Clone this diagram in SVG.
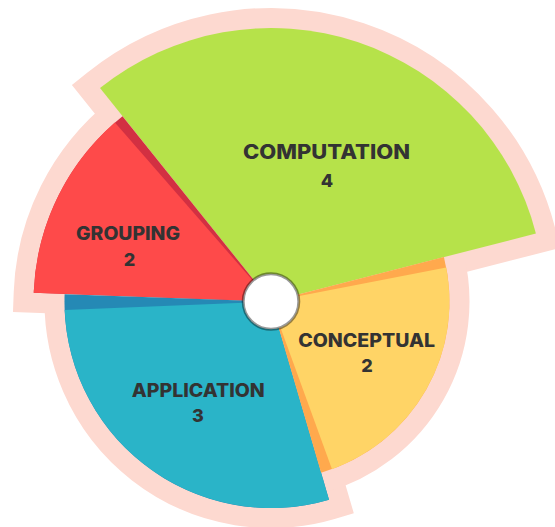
<svg xmlns="http://www.w3.org/2000/svg" width="555" height="527" viewBox="0 0 555 527">
<style>
.halo{fill:#FDD9D0;stroke:#FDD9D0;stroke-width:40;stroke-linejoin:miter;stroke-miterlimit:10}
.lbl{font-family:Inter,"Open Sans","Liberation Sans",sans-serif;font-weight:800;fill:#333333;text-anchor:middle}
.t{font-size:18.5px}
.n{font-size:18px}
</style>
<rect width="555" height="527" fill="#FFFFFF"/>
<g id="halo">
<path class="halo" d="M271,301.5 L100,88.1 A273.5,273.5 0 0 1 535.9,233.5 Z"/>
<path class="halo" d="M271,301.5 L33.7,292.8 A237.5,237.5 0 0 1 122.5,116.2 Z"/>
<path class="halo" d="M271,301.5 L329,499.7 A206.5,206.5 0 0 1 64.6,294.3 Z"/>
<path class="halo" d="M271,301.5 L443.9,257.1 A178.5,178.5 0 0 1 321.1,472.8 Z"/>
</g>
<g id="computation">
<path fill="#B6E24A" d="M271,301.5 L100,88.1 A273.5,273.5 0 0 1 535.9,233.5 Z"/>
<text class="lbl" x="326.5" y="159" font-size="20" textLength="167" lengthAdjust="spacingAndGlyphs">COMPUTATION</text>
<text class="lbl n" x="327" y="186.7">4</text>
</g>
<g id="grouping">
<path fill="#D23042" d="M271,301.5 L33.7,292.8 A237.5,237.5 0 0 1 122.5,116.2 Z"/>
<path fill="#FE4A4A" d="M271,301.5 L33.7,292.8 A237.5,237.5 0 0 1 114.9,122.5 Z"/>
<text class="lbl t" x="128" y="240" textLength="104" lengthAdjust="spacingAndGlyphs">GROUPING</text>
<text class="lbl n" x="129.5" y="265.7">2</text>
</g>
<g id="application">
<path fill="#2589B5" d="M271,301.5 L329,499.7 A206.5,206.5 0 0 1 64.6,294.3 Z"/>
<path fill="#2AB4C8" d="M271,301.5 L329,499.7 A206.5,206.5 0 0 1 64.7,310.1 Z"/>
<text class="lbl t" x="198.3" y="396.7" textLength="133" lengthAdjust="spacingAndGlyphs">APPLICATION</text>
<text class="lbl n" x="198" y="421.7">3</text>
</g>
<g id="conceptual">
<path fill="#FFA94D" d="M271,301.5 L443.9,257.1 A178.5,178.5 0 0 1 321.1,472.8 Z"/>
<path fill="#FFD466" d="M271,301.5 L446.2,267.4 A178.5,178.5 0 0 1 332,469.2 Z"/>
<text class="lbl t" x="366.7" y="346.7" textLength="137" lengthAdjust="spacingAndGlyphs">CONCEPTUAL</text>
<text class="lbl n" x="367" y="371.7">2</text>
</g>
<g id="connectors"></g>
<g id="hub">
<circle cx="271" cy="301.5" r="27.8" fill="#FFFFFF" stroke="#000000" stroke-opacity="0.4" stroke-width="3"/>
</g>
</svg>
